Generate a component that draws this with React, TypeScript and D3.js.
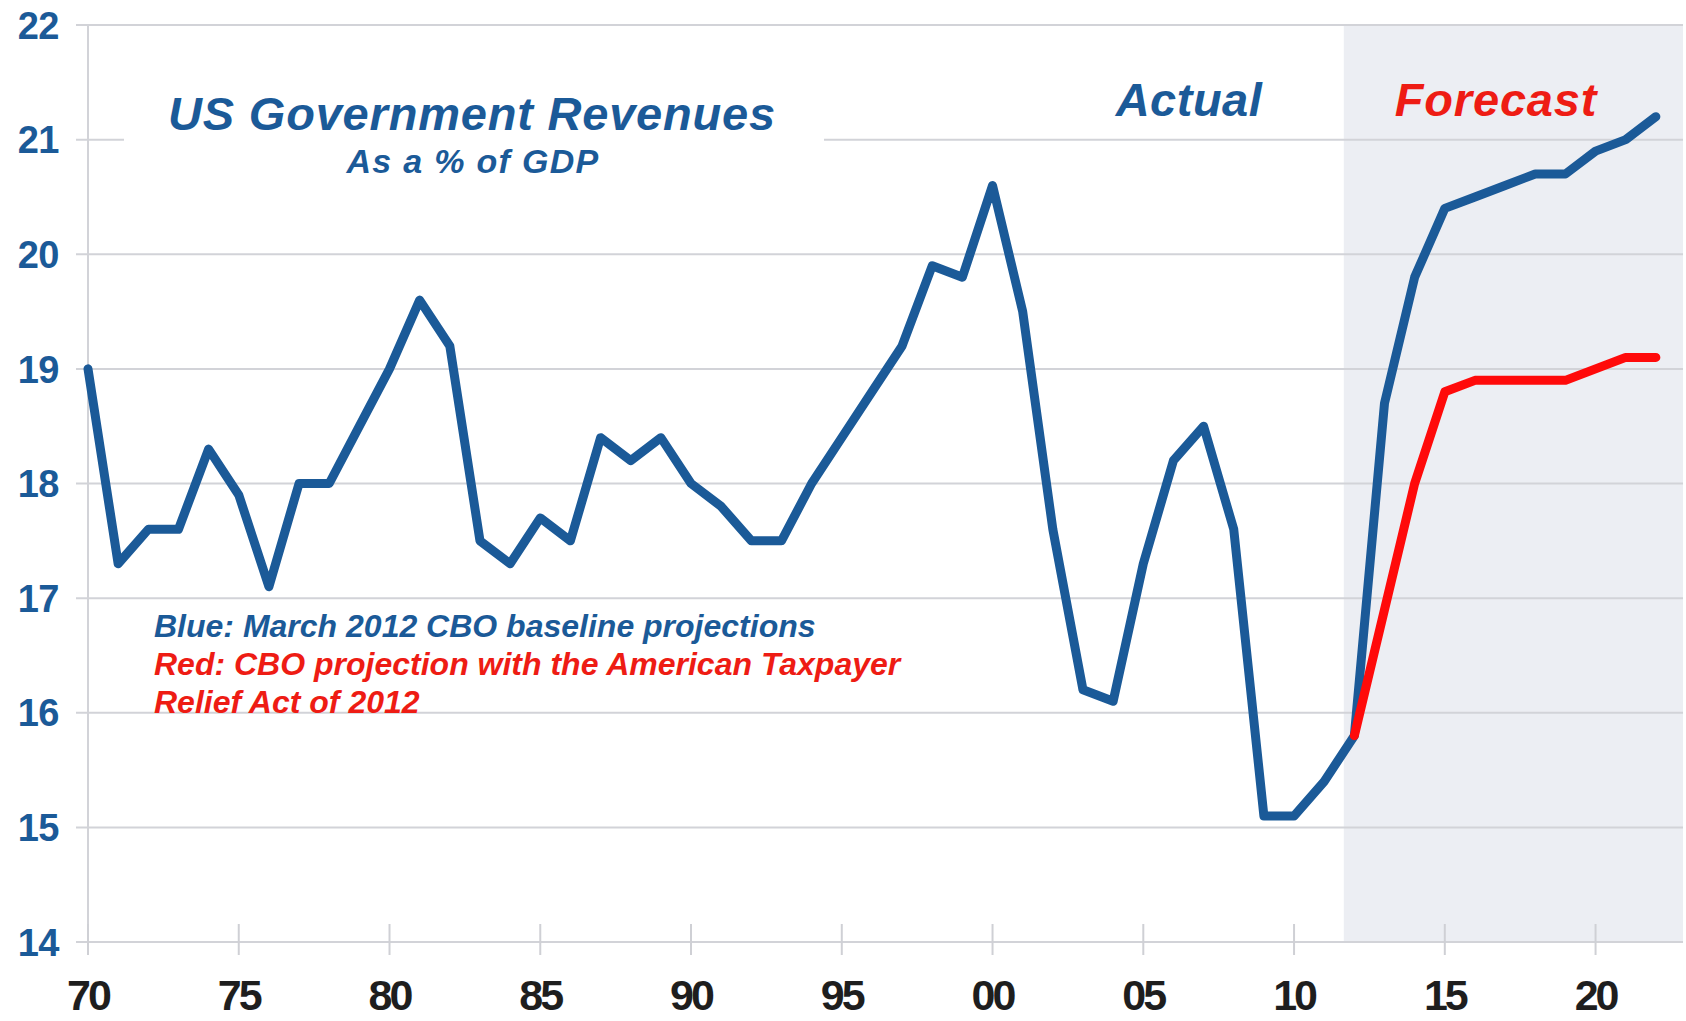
import React from "react";
import * as d3 from "d3";

const years: number[] = d3.range(1970, 2023);
const blueValues: number[] = [
  19.0, 17.3, 17.6, 17.6, 18.3, 17.9, 17.1, 18.0, 18.0, 18.5,
  19.0, 19.6, 19.2, 17.5, 17.3, 17.7, 17.5, 18.4, 18.2, 18.4,
  18.0, 17.8, 17.5, 17.5, 18.0, 18.4, 18.8, 19.2, 19.9, 19.8,
  20.6, 19.5, 17.6, 16.2, 16.1, 17.3, 18.2, 18.5, 17.6, 15.1,
  15.1, 15.4, 15.8, 18.7, 19.8, 20.4, 20.5, 20.6, 20.7, 20.7,
  20.9, 21.0, 21.2,
];
const redYears: number[] = d3.range(2012, 2023);
const redValues: number[] = [15.8, 16.9, 18.0, 18.8, 18.9, 18.9, 18.9, 18.9, 19.0, 19.1, 19.1];
const yTicks: number[] = [14, 15, 16, 17, 18, 19, 20, 21, 22];
const xTicks: number[] = [1970, 1975, 1980, 1985, 1990, 1995, 2000, 2005, 2010, 2015, 2020];
const xTickLabels: string[] = ["70", "75", "80", "85", "90", "95", "00", "05", "10", "15", "20"];
const forecastStart = 2011.65;
const xDomain: [number, number] = [1970, 2022.9];
const yDomain: [number, number] = [14, 22];

const BLUE = "#1b5a98";
const RED = "#ee1c14";
const FONT = "'Liberation Sans', Arial, Helvetica, sans-serif";

export default function App() {
  const W = 1686;
  const H = 1021;
  const left = 88;
  const right = 1683;
  const top = 25;
  const bottom = 942;
  const x = d3.scaleLinear().domain(xDomain).range([left, right]);
  const y = d3.scaleLinear().domain(yDomain).range([bottom, top]);

  const line = d3
    .line<[number, number]>()
    .x((d) => x(d[0]))
    .y((d) => y(d[1]));

  const bluePts: [number, number][] = years.map((yr, i) => [yr, blueValues[i]]);
  const redPts: [number, number][] = redYears.map((yr, i) => [yr, redValues[i]]);

  return (
    <svg
      width={W}
      height={H}
      style={{ position: "absolute", left: 0, top: 0, background: "#fff" }}
      fontFamily={FONT}
    >
      <rect x={0} y={0} width={W} height={H} fill="#fff" />
      {/* forecast shading */}
      <rect
        x={x(forecastStart)}
        y={top}
        width={right - x(forecastStart)}
        height={bottom - top}
        fill="#eceef3"
      />
      {/* gridlines */}
      {yTicks.map((v) => (
        <line
          key={"g" + v}
          x1={left - 12}
          x2={right}
          y1={y(v)}
          y2={y(v)}
          stroke="#d2d3d8"
          strokeWidth={2}
        />
      ))}
      {/* y axis line */}
      <line x1={left} x2={left} y1={top} y2={bottom + 12} stroke="#d2d3d8" strokeWidth={2} />
      {/* x ticks */}
      {xTicks.map((t) => (
        <line
          key={"t" + t}
          x1={x(t)}
          x2={x(t)}
          y1={bottom - 18}
          y2={bottom + 13}
          stroke="#cfd0d5"
          strokeWidth={2}
        />
      ))}
      {/* white box behind title */}
      <rect x={124} y={75} width={700} height={110} fill="#fff" />
      {/* y labels */}
      {yTicks.map((v) => (
        <text
          key={"yl" + v}
          x={59}
          y={y(v)}
          dy="0.36em"
          textAnchor="end"
          fontSize={38}
          fontWeight="bold"
          fill={BLUE}
          letterSpacing={-0.5}
        >
          {v}
        </text>
      ))}
      {/* x labels */}
      {xTicks.map((t, i) => (
        <text
          key={"xl" + t}
          x={x(t)}
          y={1010}
          textAnchor="middle"
          fontSize={43}
          fontWeight="bold"
          fill="#1e1e1e"
          letterSpacing={-3}
        >
          {xTickLabels[i]}
        </text>
      ))}
      {/* lines */}
      <path
        d={line(bluePts) || ""}
        fill="none"
        stroke={BLUE}
        strokeWidth={9}
        strokeLinejoin="round"
        strokeLinecap="round"
      />
      <path
        d={line(redPts) || ""}
        fill="none"
        stroke="#ff0a0a"
        strokeWidth={9}
        strokeLinejoin="round"
        strokeLinecap="round"
      />
      {/* titles */}
      <text
        x={472}
        y={130}
        textAnchor="middle"
        fontSize={47}
        fontWeight="bold"
        fontStyle="italic"
        fill={BLUE}
        letterSpacing={0.8}
      >
        US Government Revenues
      </text>
      <text
        x={473}
        y={173}
        textAnchor="middle"
        fontSize={34}
        fontWeight="bold"
        fontStyle="italic"
        fill={BLUE}
        letterSpacing={1.3}
      >
        As a % of GDP
      </text>
      <text
        x={1189}
        y={116}
        textAnchor="middle"
        fontSize={47}
        fontWeight="bold"
        fontStyle="italic"
        fill={BLUE}
        letterSpacing={0.5}
      >
        Actual
      </text>
      <text
        x={1496}
        y={116}
        textAnchor="middle"
        fontSize={47}
        fontWeight="bold"
        fontStyle="italic"
        fill={RED}
        letterSpacing={0.8}
      >
        Forecast
      </text>
      {/* notes */}
      <text x={154} y={637} fontSize={32} fontWeight="bold" fontStyle="italic" fill={BLUE} letterSpacing={0}>
        Blue: March 2012 CBO baseline projections
      </text>
      <text x={154} y={675} fontSize={32} fontWeight="bold" fontStyle="italic" fill={RED} letterSpacing={0}>
        Red: CBO projection with the American Taxpayer
      </text>
      <text x={154} y={713} fontSize={32} fontWeight="bold" fontStyle="italic" fill={RED} letterSpacing={0}>
        Relief Act of 2012
      </text>
    </svg>
  );
}
